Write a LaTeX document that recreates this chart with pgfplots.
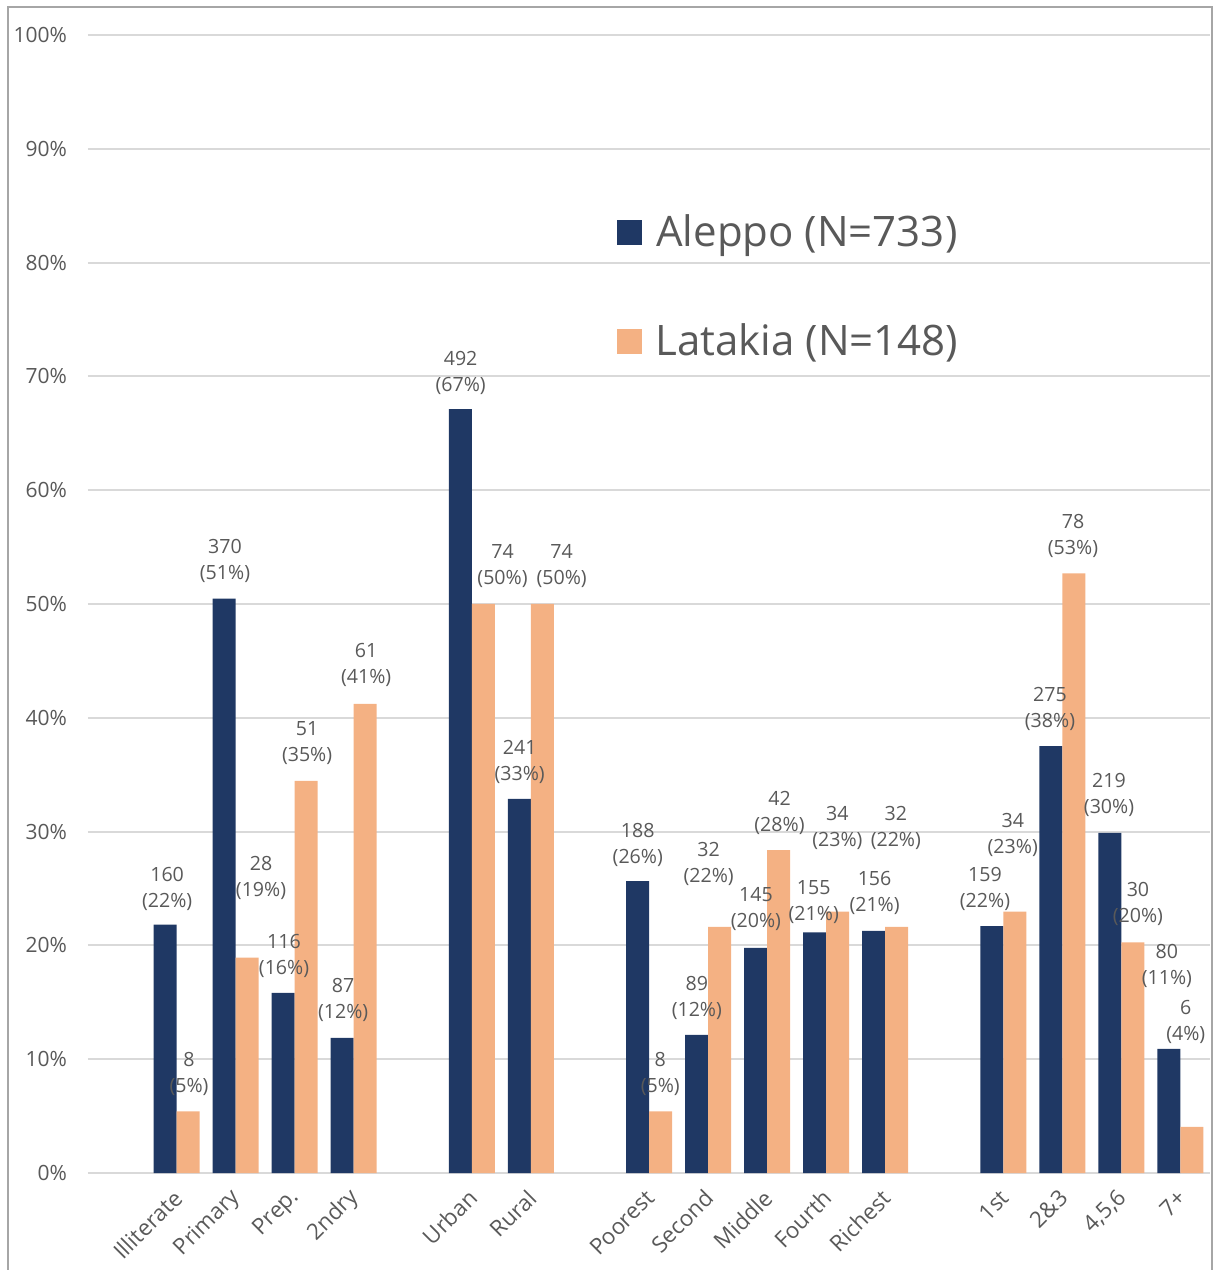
\documentclass[border=0pt]{standalone}
\usepackage{pgfplots}
\pgfplotsset{compat=1.18}
\usepackage{fontspec}
\setmainfont{Open Sans}
\definecolor{aleppo}{HTML}{1F3864}
\definecolor{latakia}{HTML}{F4B183}
\definecolor{txtgray}{HTML}{595959}
\definecolor{gridgray}{HTML}{D9D9D9}
\definecolor{framegray}{HTML}{A6A6A6}
\begin{document}
\begin{tikzpicture}
\begin{axis}[
  at={(0,0)}, anchor=south west,
  scale only axis,
  width=561pt, height=569pt,
  xmin=-1.5, xmax=17.5,
  ymin=0, ymax=100,
  ytick={0,10,...,100},
  yticklabel={\pgfmathprintnumber{\tick}\%},
  /pgf/number format/assume math mode=true,
  xtick={0,1,2,3,5,6,8,9,10,11,12,14,15,16,17},
  xticklabels={Illiterate,Primary,Prep.,2ndry,Urban,Rural,Poorest,Second,Middle,Fourth,Richest,1st,2\&3,{4,5,6},7+},
  ymajorgrids,
  grid style={color=gridgray, line width=1pt},
  axis line style={draw=none},
  major tick length=0pt,
  tick label style={text=txtgray, font=\fontsize{10.5}{12}\selectfont},
  yticklabel style={xshift=-7pt},
  xticklabel style={rotate=45, anchor=east, yshift=-8pt, xshift=-3.5pt,
    font=\fontsize{11.2}{13}\selectfont},
  legend style={at={(0.4715,0.846)}, anchor=north west, draw=none, fill=none,
    inner sep=0pt, row sep=33pt,
    /tikz/every odd column/.append style={column sep=4.5pt},
    font=\fontsize{21}{25}\selectfont, text=txtgray},
  legend image code/.code={\fill[#1] (0pt,-6.25pt) rectangle (12.5pt,6.25pt);},
]
\addplot[ybar, bar width=11.5pt, bar shift=-5.75pt, fill=aleppo, draw=none] coordinates {
  (0,21.83)(1,50.48)(2,15.83)(3,11.87)(5,67.12)(6,32.88)(8,25.65)(9,12.14)
  (10,19.78)(11,21.15)(12,21.28)(14,21.69)(15,37.52)(16,29.88)(17,10.91)
};
\addplot[ybar, bar width=11.5pt, bar shift=5.75pt, fill=latakia, draw=none] coordinates {
  (0,5.41)(1,18.92)(2,34.46)(3,41.22)(5,50.00)(6,50.00)(8,5.41)(9,21.62)
  (10,28.38)(11,22.97)(12,21.62)(14,22.97)(15,52.70)(16,20.27)(17,4.05)
};
\legend{Aleppo (N=733),Latakia (N=148)}
% data labels, placed where the chart has them
\addplot[forget plot, draw=none, nodes near coords, point meta=explicit symbolic,
  nodes near coords style={anchor=center, align=center, text=txtgray,
    font=\fontsize{9.8}{13}\selectfont}] coordinates {
  (-0.16,25.0) [160\\(22\%)]
  (0.21,8.7) [8\\(5\%)]
  (0.82,53.8) [370\\(51\%)]
  (1.43,25.9) [28\\(19\%)]
  (1.82,19.1) [116\\(16\%)]
  (2.21,37.8) [51\\(35\%)]
  (2.82,15.2) [87\\(12\%)]
  (3.21,44.6) [61\\(41\%)]
  (4.81,70.3) [492\\(67\%)]
  (5.52,53.3) [74\\(50\%)]
  (5.81,36.1) [241\\(33\%)]
  (6.52,53.3) [74\\(50\%)]
  (7.81,28.8) [188\\(26\%)]
  (8.19,8.7) [8\\(5\%)]
  (8.81,15.4) [89\\(12\%)]
  (9.01,27.2) [32\\(22\%)]
  (9.81,23.2) [145\\(20\%)]
  (10.21,31.6) [42\\(28\%)]
  (10.79,23.8) [155\\(21\%)]
  (11.19,30.3) [34\\(23\%)]
  (11.82,24.6) [156\\(21\%)]
  (12.18,30.3) [32\\(22\%)]
  (13.69,25.0) [159\\(22\%)]
  (14.16,29.7) [34\\(23\%)]
  (14.79,40.8) [275\\(38\%)]
  (15.18,56.0) [78\\(53\%)]
  (15.79,33.2) [219\\(30\%)]
  (16.28,23.6) [30\\(20\%)]
  (16.77,18.2) [80\\(11\%)]
  (17.09,13.3) [6\\(4\%)]
};
\end{axis}
\draw[framegray, line width=1pt] (-40pt,-48.5pt) -- (-40pt,583pt) -- (562pt,583pt) -- (562pt,-48.5pt);
\pgfresetboundingbox
\path[use as bounding box] (-44pt,-48.5pt) rectangle (563.5pt,586.5pt);
\end{tikzpicture}
\end{document}
